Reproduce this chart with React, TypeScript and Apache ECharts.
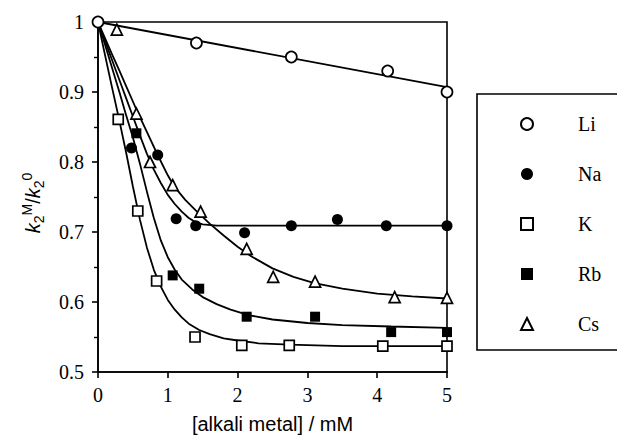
import React, { useEffect, useRef } from 'react';
import * as echarts from 'echarts';

const seriesNames = ['Li', 'Na', 'K', 'Rb', 'Cs'];

// measured points [alkali metal mM, k2M/k20]
const liPoints = [[0, 1], [1.41, 0.97], [2.77, 0.95], [4.15, 0.93], [5, 0.9]];
const naPoints = [[0.48, 0.82], [0.855, 0.81], [1.12, 0.719], [1.4, 0.709], [2.1, 0.699], [2.77, 0.709], [3.43, 0.718], [4.13, 0.709], [5, 0.709]];
const kPoints = [[0.29, 0.861], [0.57, 0.73], [0.84, 0.63], [1.39, 0.55], [2.06, 0.538], [2.74, 0.538], [4.08, 0.537], [5, 0.537]];
const rbPoints = [[0.55, 0.841], [1.07, 0.638], [1.45, 0.619], [2.13, 0.579], [3.11, 0.579], [4.2, 0.557], [5, 0.557]];
const csPoints = [[0.27, 0.989], [0.55, 0.869], [0.745, 0.8], [1.07, 0.767], [1.47, 0.729], [2.13, 0.676], [2.51, 0.636], [3.11, 0.629], [4.25, 0.607], [5, 0.606]];

// fitted curves
const liFit = [[0, 1], [5, 0.907]];
const naFit = [[0, 1], [0.1, 0.973], [0.2, 0.946], [0.3, 0.919], [0.4, 0.892], [0.5, 0.865], [0.6, 0.838], [0.7, 0.812], [0.8, 0.789], [0.9, 0.77], [1.0, 0.753], [1.1, 0.74], [1.2, 0.729], [1.3, 0.72], [1.4, 0.714], [1.5, 0.711], [1.7, 0.709], [2, 0.709], [5, 0.709]];
const kFit = [[0, 1], [0.1, 0.953], [0.2, 0.907], [0.3, 0.862], [0.4, 0.815], [0.5, 0.765], [0.6, 0.718], [0.7, 0.678], [0.8, 0.646], [0.9, 0.622], [1.0, 0.603], [1.1, 0.589], [1.2, 0.578], [1.3, 0.569], [1.45, 0.56], [1.6, 0.554], [1.8, 0.548], [2.0, 0.545], [2.3, 0.541], [2.75, 0.539], [3.5, 0.537], [5, 0.537]];
const rbFit = [[0, 1], [0.1, 0.968], [0.2, 0.935], [0.3, 0.902], [0.4, 0.868], [0.5, 0.835], [0.6, 0.798], [0.7, 0.758], [0.8, 0.72], [0.9, 0.688], [1.0, 0.664], [1.1, 0.646], [1.2, 0.632], [1.35, 0.618], [1.5, 0.607], [1.7, 0.597], [1.9, 0.589], [2.17, 0.581], [2.5, 0.575], [3.0, 0.57], [3.5, 0.567], [4.2, 0.565], [5, 0.563]];
const csFit = [[0, 1], [0.1, 0.977], [0.2, 0.954], [0.3, 0.932], [0.4, 0.909], [0.55, 0.875], [0.7, 0.843], [0.855, 0.81], [1.0, 0.781], [1.1, 0.764], [1.25, 0.746], [1.4, 0.731], [1.6, 0.712], [1.8, 0.695], [2.0, 0.679], [2.2, 0.665], [2.5, 0.648], [2.8, 0.636], [3.1, 0.627], [3.5, 0.619], [4.0, 0.612], [4.5, 0.608], [5, 0.605]];

const pointSets = [liPoints, naPoints, kPoints, rbPoints, csPoints];
const fitSets = [liFit, naFit, kFit, rbFit, csFit];

const symbols = ['circle', 'circle', 'rect', 'rect', 'triangle'];
const filled = [false, true, false, true, false];
const sizes = [11, 11, 10, 10, 11];

export default function App() {
  const ref = useRef<HTMLDivElement>(null);
  useEffect(() => {
    const chart = echarts.init(ref.current!, null, { renderer: 'svg' });
    const scatter = seriesNames.map((name, i) => ({
      name,
      type: 'scatter',
      data: pointSets[i],
      symbol: symbols[i],
      symbolSize: sizes[i],
      itemStyle: {
        color: filled[i] ? '#000' : '#fff',
        borderColor: '#000',
        borderWidth: filled[i] ? 0 : 1.7,
        opacity: 1,
      },
      z: 4,
    }));
    const lines = seriesNames.map((name, i) => ({
      name: name + ' fit',
      type: 'line',
      data: fitSets[i],
      smooth: false,
      showSymbol: false,
      lineStyle: { color: '#000', width: 1.8 },
      z: 2,
      silent: true,
    }));
    chart.setOption({
      animation: false,
      backgroundColor: '#fff',
      grid: {
        left: 98, top: 22, right: 170, bottom: 69,
        show: true, borderColor: '#000', borderWidth: 1.6, backgroundColor: 'transparent',
      },
      xAxis: {
        type: 'value', min: 0, max: 5, interval: 1,
        name: '[alkali metal] / mM', nameLocation: 'middle', nameGap: 42,
        nameTextStyle: { fontFamily: 'Liberation Sans', fontSize: 20, color: '#000' },
        axisLine: { show: true, lineStyle: { color: '#000', width: 1.6 } },
        axisTick: { show: true, length: 6, lineStyle: { color: '#000', width: 1.6 } },
        axisLabel: { fontFamily: 'Liberation Serif', fontSize: 20, color: '#000', margin: 13 },
        splitLine: { show: false },
      },
      yAxis: {
        type: 'value', min: 0.5, max: 1, interval: 0.1,
        axisLine: { show: true, lineStyle: { color: '#000', width: 1.6 } },
        axisTick: { show: true, length: 6, lineStyle: { color: '#000', width: 1.6 } },
        minorTick: { show: true, splitNumber: 2, length: 4, lineStyle: { color: '#000', width: 1.4 } },
        axisLabel: {
          fontFamily: 'Liberation Serif', fontSize: 20, color: '#000', margin: 14,
          formatter: (v: number) => (Math.abs(v - 1) < 1e-9 ? '1' : v.toFixed(1)),
        },
        splitLine: { show: false },
      },
      legend: {
        data: seriesNames,
        orient: 'vertical',
        left: 477, top: 94,
        padding: [20, 120, 16, 43],
        itemGap: 30, itemWidth: 12, itemHeight: 12,
        borderColor: '#000', borderWidth: 1.6,
        selectedMode: false,
        textStyle: { fontFamily: 'Liberation Serif', fontSize: 20, color: '#000', lineHeight: 12, padding: [0, 0, 0, 40] },
      },
      graphic: [
        {
          type: 'text', x: 33, y: 203, rotation: Math.PI / 2,
          style: {
            text: '{k|k}{s|2}{u|M}{sl|/}{k|k}{s|2}{u|0}',
            align: 'center', verticalAlign: 'middle', fill: '#000',
            rich: {
              k: { fontFamily: 'Liberation Sans', fontStyle: 'italic', fontSize: 20, lineHeight: 26 },
              sl: { fontFamily: 'Liberation Sans', fontSize: 20, lineHeight: 26 },
              s: { fontFamily: 'Liberation Sans', fontSize: 14, lineHeight: 14, verticalAlign: 'bottom' },
              u: { fontFamily: 'Liberation Sans', fontSize: 14, lineHeight: 14, verticalAlign: 'top' },
            },
          },
        },
      ],
      series: [...lines, ...scatter],
    });
    return () => chart.dispose();
  }, []);
  return <div ref={ref} style={{ position: 'fixed', left: 0, top: 0, width: 617, height: 441 }} />;
}
